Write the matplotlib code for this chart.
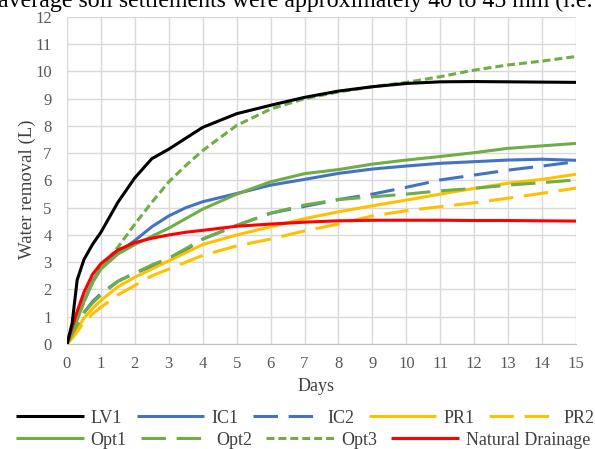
import matplotlib
matplotlib.use('Agg')
import matplotlib.pyplot as plt

# === Données ===
days = [0, 0.15, 0.3, 0.5, 0.75, 1, 1.5, 2, 2.5, 3, 3.5, 4,
        5, 6, 7, 8, 9, 10, 11, 12, 13, 14, 15]

lv1 = [0, 0.75, 2.35, 3.1, 3.65, 4.1, 5.2, 6.1, 6.8, 7.15, 7.55, 7.95,
       8.45, 8.76, 9.05, 9.28, 9.44, 9.56, 9.62, 9.63, 9.62, 9.61, 9.6]
ic1 = [0, 0.45, 0.95, 1.6, 2.3, 2.8, 3.35, 3.8, 4.3, 4.7, 5.0, 5.22,
       5.52, 5.83, 6.04, 6.26, 6.42, 6.53, 6.63, 6.69, 6.75, 6.78, 6.74]
ic2 = [0, 0.35, 0.7, 1.15, 1.55, 1.85, 2.3, 2.6, 2.85, 3.1, 3.45, 3.85,
       4.35, 4.8, 5.05, 5.3, 5.5, 5.75, 6.02, 6.2, 6.38, 6.53, 6.69]
pr1 = [0, 0.25, 0.55, 0.95, 1.3, 1.6, 2.1, 2.45, 2.75, 3.05, 3.35, 3.65,
       4.0, 4.3, 4.6, 4.85, 5.07, 5.28, 5.5, 5.71, 5.9, 6.04, 6.23]
pr2 = [0, 0.2, 0.45, 0.8, 1.1, 1.35, 1.8, 2.15, 2.5, 2.75, 3.0, 3.25,
       3.6, 3.85, 4.15, 4.4, 4.7, 4.89, 5.04, 5.18, 5.35, 5.53, 5.72]
opt1 = [0, 0.4, 0.9, 1.55, 2.25, 2.75, 3.3, 3.65, 3.95, 4.25, 4.6, 4.95,
        5.5, 5.95, 6.25, 6.4, 6.6, 6.75, 6.88, 7.02, 7.18, 7.27, 7.36]
opt2 = [0, 0.35, 0.7, 1.15, 1.5, 1.8, 2.3, 2.6, 2.9, 3.15, 3.5, 3.85,
        4.35, 4.8, 5.1, 5.3, 5.4, 5.5, 5.62, 5.71, 5.83, 5.92, 6.02]
opt3 = [0, 0.4, 0.9, 1.55, 2.25, 2.8, 3.55, 4.4, 5.2, 5.95, 6.55, 7.1,
        8.02, 8.62, 9.0, 9.25, 9.44, 9.6, 9.81, 10.05, 10.24, 10.38, 10.55]
natural = [0, 0.6, 1.2, 1.9, 2.55, 2.95, 3.45, 3.72, 3.88, 4.0, 4.1, 4.17,
           4.32, 4.4, 4.47, 4.52, 4.54, 4.54, 4.54, 4.53, 4.53, 4.52, 4.51]

# === Style ===
plt.rcParams['font.family'] = ['Liberation Serif', 'DejaVu Serif']
BLACK, BLUE, YELLOW, GREEN, RED = '#000000', '#4472C4', '#FFC000', '#70AD47', '#FF0000'
LW = 2.2
long_dash = (0, (8, 3.5))
short_dash = (0, (2.6, 1.3))
grey_txt = '#595959'

fig = plt.figure(figsize=(5.95, 4.49), dpi=100)
ax = fig.add_axes([0.1126, 0.2339, 0.8555, 0.7283])

series = [
    ('LV1', lv1, BLACK, '-'),
    ('IC1', ic1, BLUE, '-'),
    ('IC2', ic2, BLUE, long_dash),
    ('PR1', pr1, YELLOW, '-'),
    ('PR2', pr2, YELLOW, long_dash),
    ('Opt1', opt1, GREEN, '-'),
    ('Opt2', opt2, GREEN, long_dash),
    ('Opt3', opt3, GREEN, short_dash),
    ('Natural Drainage', natural, RED, '-'),
]
handles = {}
for name, vals, col, ls in series:
    h, = ax.plot(days, vals, color=col, linestyle=ls, linewidth=LW,
                 solid_capstyle='butt', dash_capstyle='butt')
    handles[name] = h
# ordre de superposition : le noir et le rouge au-dessus
handles['LV1'].set_zorder(4)
handles['Natural Drainage'].set_zorder(3)

ax.set_xlim(0, 15)
ax.set_ylim(0, 12)
ax.set_xticks(range(0, 16))
ax.set_yticks(range(0, 13))
ax.grid(True, color='#d9d9d9', linewidth=1)
ax.set_axisbelow(True)
for s in ['top', 'right', 'left']:
    ax.spines[s].set_visible(False)
ax.spines['bottom'].set_color('#bfbfbf')
ax.tick_params(length=0, labelsize=12, labelcolor=grey_txt)
ax.tick_params(axis='y', pad=11)
ax.tick_params(axis='x', pad=9)
ax.set_xlabel('Days', fontsize=13, color='#404040')
ax.set_ylabel('Water removal (L)', fontsize=13.5, color='#404040')
ax.xaxis.set_label_coords(0.49, -0.105)
ax.yaxis.set_label_coords(-0.06, 0.474)

# === Légende sur deux lignes ===
row1 = ['LV1', 'IC1', 'IC2', 'PR1', 'PR2']
row2 = ['Opt1', 'Opt2', 'Opt3', 'Natural Drainage']
leg_kw = dict(frameon=False, fontsize=13, handlelength=3.75, handletextpad=0.38,
              columnspacing=0.8, labelcolor='#404040', borderaxespad=0, borderpad=0)
leg1 = fig.legend([handles[n] for n in row1], row1, ncol=5,
                  loc='center left', bbox_to_anchor=(0.027, 0.069), **leg_kw)
leg2 = fig.legend([handles[n] for n in row2], row2, ncol=4,
                  loc='center left', bbox_to_anchor=(0.027, 0.02), **leg_kw)

# texte du document, coupé en haut
fig.text(-0.003, 0.984, 'average soil settlements were approximately 40 to 45 mm (i.e.',
         fontsize=17.2, color='black', va='baseline', ha='left')

fig.savefig('out.png', dpi=100)
